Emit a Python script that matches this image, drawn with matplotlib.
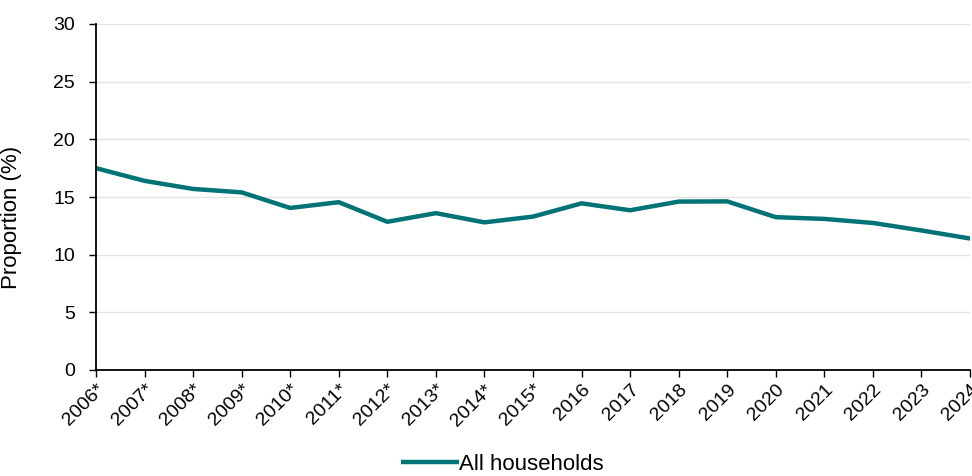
import matplotlib
matplotlib.use('Agg')
import matplotlib.pyplot as plt

years = ['2006*', '2007*', '2008*', '2009*', '2010*', '2011*', '2012*', '2013*',
         '2014*', '2015*', '2016', '2017', '2018', '2019', '2020', '2021',
         '2022', '2023', '2024']
all_households = [17.5, 16.4, 15.7, 15.4, 14.05, 14.55, 12.85, 13.6, 12.8, 13.3,
                  14.45, 13.85, 14.6, 14.62, 13.25, 13.1, 12.75, 12.1, 11.4]

plt.rcParams['font.family'] = ['Liberation Sans', 'DejaVu Sans']

fig = plt.figure(figsize=(9.72, 4.76), dpi=100)
ax = fig.add_axes([96 / 972, 1 - 370 / 476, (970 - 96) / 972, (370 - 24) / 476])

x = list(range(len(years)))
ax.plot(x, all_households, color='#007377', linewidth=3.2, label='All households',
        solid_capstyle='butt')

ax.set_xlim(0, len(years) - 1)
ax.set_ylim(0, 30)
ax.set_yticks(range(0, 31, 5))
ax.set_xticks(x)
ax.set_xticklabels(years, rotation=45, ha='right', rotation_mode='anchor', fontsize=14)
ax.tick_params(axis='y', labelsize=14, length=5, width=1, color='black',
               direction='out', pad=10)
ax.tick_params(axis='x', length=5, width=1, color='black', direction='out', pad=3)
ax.set_ylabel('Proportion (%)', fontsize=16)
ax.yaxis.set_label_coords(-74 / 874, 0.44)

ax.grid(True, axis='y', color='#e3e3e3', linewidth=1)
ax.set_axisbelow(True)
for s in ['top', 'right']:
    ax.spines[s].set_visible(False)
ax.spines['left'].set_color('black')
ax.spines['bottom'].set_color('black')
ax.spines['left'].set_linewidth(1.3)
ax.spines['bottom'].set_linewidth(1.3)

fig.legend(loc='lower center', bbox_to_anchor=(0.517, -0.04), frameon=False,
           fontsize=16, handlelength=2.6, handletextpad=0.0)

fig.savefig('out.png', dpi=100)
